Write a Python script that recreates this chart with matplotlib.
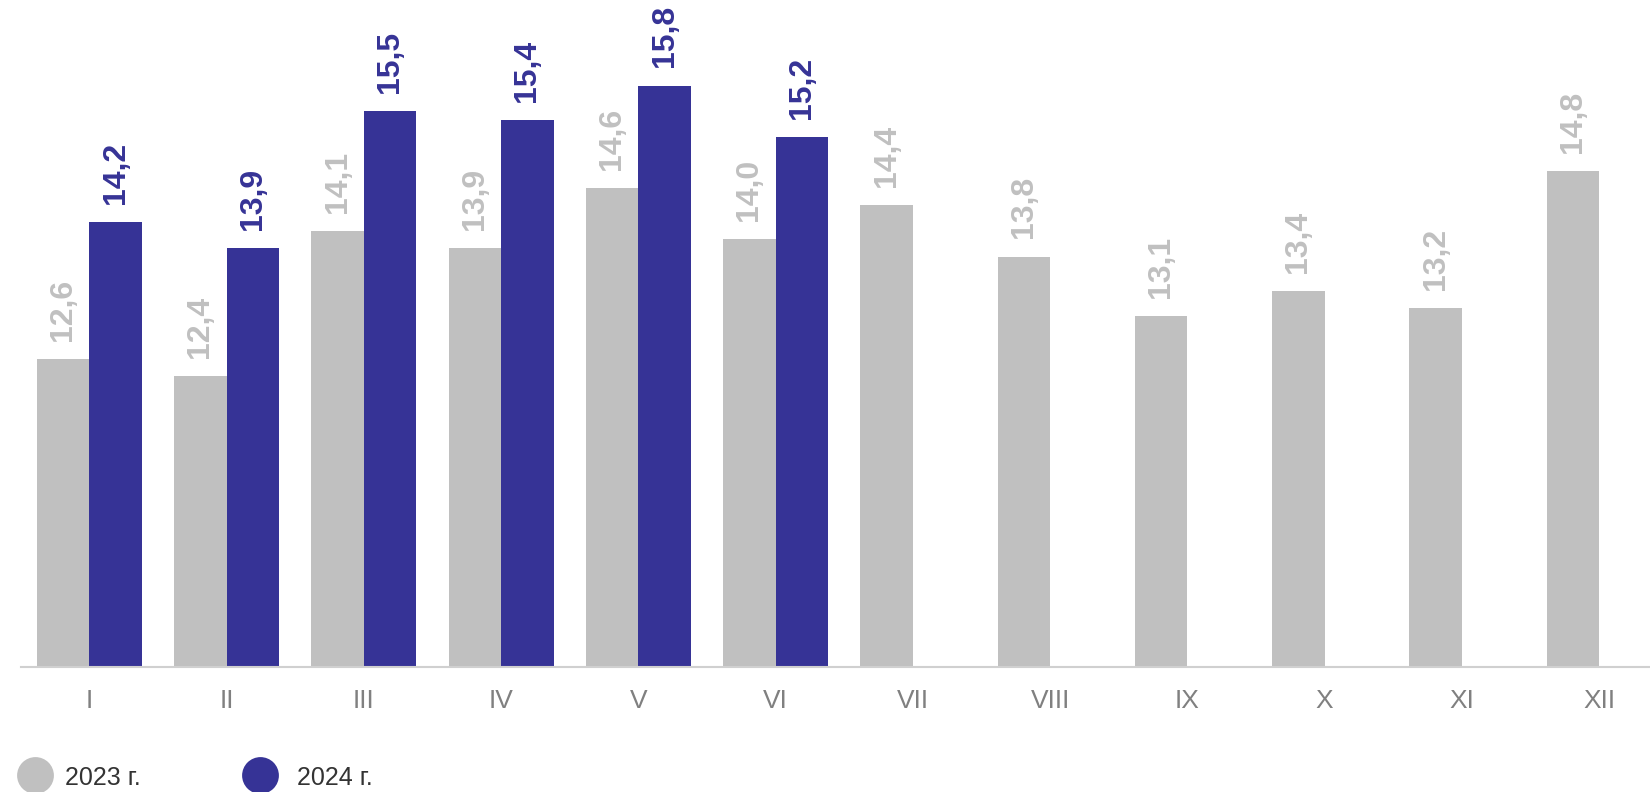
import matplotlib
matplotlib.use("Agg")
import matplotlib.pyplot as plt
from matplotlib.lines import Line2D
import numpy as np

months = ["I", "II", "III", "IV", "V", "VI", "VII", "VIII", "IX", "X", "XI", "XII"]
v2023 = [12.6, 12.4, 14.1, 13.9, 14.6, 14.0, 14.4, 13.8, 13.1, 13.4, 13.2, 14.8]
v2024 = [14.2, 13.9, 15.5, 15.4, 15.8, 15.2]
series_labels = ["2023 г.", "2024 г."]

GREY = "#C0C0C0"
BLUE = "#363396"
FONT = ["Liberation Sans", "DejaVu Sans"]
plt.rcParams["font.family"] = FONT

fig = plt.figure(figsize=(16.5, 7.92), dpi=100)
ax = fig.add_axes([0.0127, 0.1578, 1 - 0.0127, 1 - 0.1578])

w = 0.383
x = np.arange(len(months))
x24 = np.arange(len(v2024))

ax.bar(x - w / 2, v2023, width=w, color=GREY)
ax.bar(x24 + w / 2, v2024, width=w, color=BLUE)

for xi, v in zip(x, v2023):
    ax.annotate(f"{v:.1f}".replace(".", ","), (xi - w / 2, v), xytext=(0, 13),
                textcoords="offset points", rotation=90, ha="center", va="bottom",
                fontsize=23, color=GREY, fontweight="bold")
for xi, v in zip(x24, v2024):
    ax.annotate(f"{v:.1f}".replace(".", ","), (xi + w / 2, v), xytext=(0, 13),
                textcoords="offset points", rotation=90, ha="center", va="bottom",
                fontsize=23, color=BLUE, fontweight="bold")

ax.set_ylim(9, 16.8)
ax.set_xlim(-0.498, 11.37)
ax.set_xticks(x)
ax.set_xticklabels(months, fontsize=19, color="#808080")
ax.tick_params(axis="x", length=0, pad=16)
ax.set_yticks([])
for s in ["top", "right", "left"]:
    ax.spines[s].set_visible(False)
ax.spines["bottom"].set_color("#D0D0D0")
ax.spines["bottom"].set_linewidth(1.5)

# legend
H = 792.0
Wd = 1650.0
for cx, col, tx, lab in [(35, GREY, 65, series_labels[0]), (260, BLUE, 297, series_labels[1])]:
    fig.add_artist(Line2D([cx / Wd], [1 - 775 / H], marker="o", markersize=26.5,
                          color=col, markeredgewidth=0, transform=fig.transFigure))
    fig.text(tx / Wd, 1 - 778 / H, lab, fontsize=18, color="#333333",
             ha="left", va="center")

fig.savefig("out.png", dpi=100)
